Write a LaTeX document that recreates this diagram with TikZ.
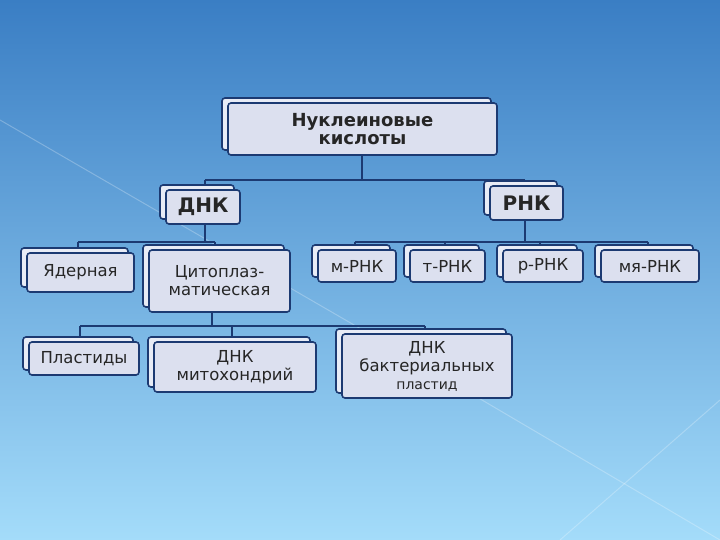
\documentclass[tikz,border=0pt]{standalone}
\usepackage{fontspec}
\setmainfont{DejaVu Sans}
\begin{document}
\begin{tikzpicture}[x=1pt,y=-1pt,
  bx/.style={draw=navy,line width=1.6pt,fill=boxfill,rounded corners=3pt,inner sep=0pt,text=black!85,align=center,font=\fontsize{16.5}{18}\selectfont},
  ln/.style={draw=navy,line width=1.8pt}]
\definecolor{navy}{HTML}{1C3A72}
\definecolor{boxfill}{HTML}{DCE0EF}
\definecolor{backfill}{HTML}{E8ECF6}
\definecolor{topc}{HTML}{3A7EC4}
\definecolor{botc}{HTML}{A4DCFA}
\useasboundingbox (0,0) rectangle (720,540);
\shade[top color=topc,bottom color=botc] (0,0) rectangle (720,540);
\draw[white,opacity=0.25,line width=1pt] (0,120) -- (380,340) -- (720,540);
\draw[white,opacity=0.25,line width=1pt] (560,540) -- (720,400);
\newcommand{\bbox}[6]{% name, x1,y1,x2,y2, text
  \draw[navy,line width=1.6pt,fill=backfill,rounded corners=3pt] (#2-6,#3-5) rectangle (#4-6,#5-5);
  \node[bx,minimum width=#4-#2,minimum height=#5-#3] (#1) at ({(#2+#4)/2},{(#3+#5)/2}) {#6};}
% connectors
\draw[ln] (362,150) -- (362,180);
\draw[ln] (205,180) -- (525,180);
\draw[ln] (205,180) -- (205,190); \draw[ln] (525,180) -- (525,186);
\draw[ln] (205,222) -- (205,242); \draw[ln] (78,242) -- (215,242);
\draw[ln] (78,242) -- (78,252); \draw[ln] (215,242) -- (215,250);
\draw[ln] (525,218) -- (525,242); \draw[ln] (355,242) -- (648,242);
\draw[ln] (355,242) -- (355,250); \draw[ln] (445,242) -- (445,250);
\draw[ln] (540,242) -- (540,250); \draw[ln] (648,242) -- (648,250);
\draw[ln] (212,310) -- (212,326); \draw[ln] (80,326) -- (425,326);
\draw[ln] (80,326) -- (80,342); \draw[ln] (232,326) -- (232,342); \draw[ln] (425,326) -- (425,334);
% boxes
\bbox{nk}{228}{103}{497}{155}{\fontsize{18}{21}\selectfont\textbf{Нуклеиновые}\\\fontsize{18}{21}\selectfont\textbf{кислоты}}
\bbox{dnk}{166}{190}{240}{224}{\fontsize{20}{20}\selectfont\textbf{ДНК}}
\bbox{rnk}{490}{186}{563}{220}{\fontsize{20}{20}\selectfont\textbf{РНК}}
\bbox{yad}{27}{253}{134}{292}{Ядерная}
\bbox{cit}{149}{250}{290}{312}{Цитоплаз-\\матическая}
\bbox{m}{318}{250}{396}{282}{м-РНК}
\bbox{t}{410}{250}{485}{282}{т-РНК}
\bbox{r}{503}{250}{583}{282}{р-РНК}
\bbox{mya}{601}{250}{699}{282}{мя-РНК}
\bbox{pl}{29}{342}{139}{375}{Пластиды}
\bbox{mit}{154}{342}{316}{392}{ДНК\\митохондрий}
\bbox{bak}{342}{334}{512}{398}{ДНК\\бактериальных\\{\fontsize{14}{15}\selectfont пластид}}
\end{tikzpicture}
\end{document}
